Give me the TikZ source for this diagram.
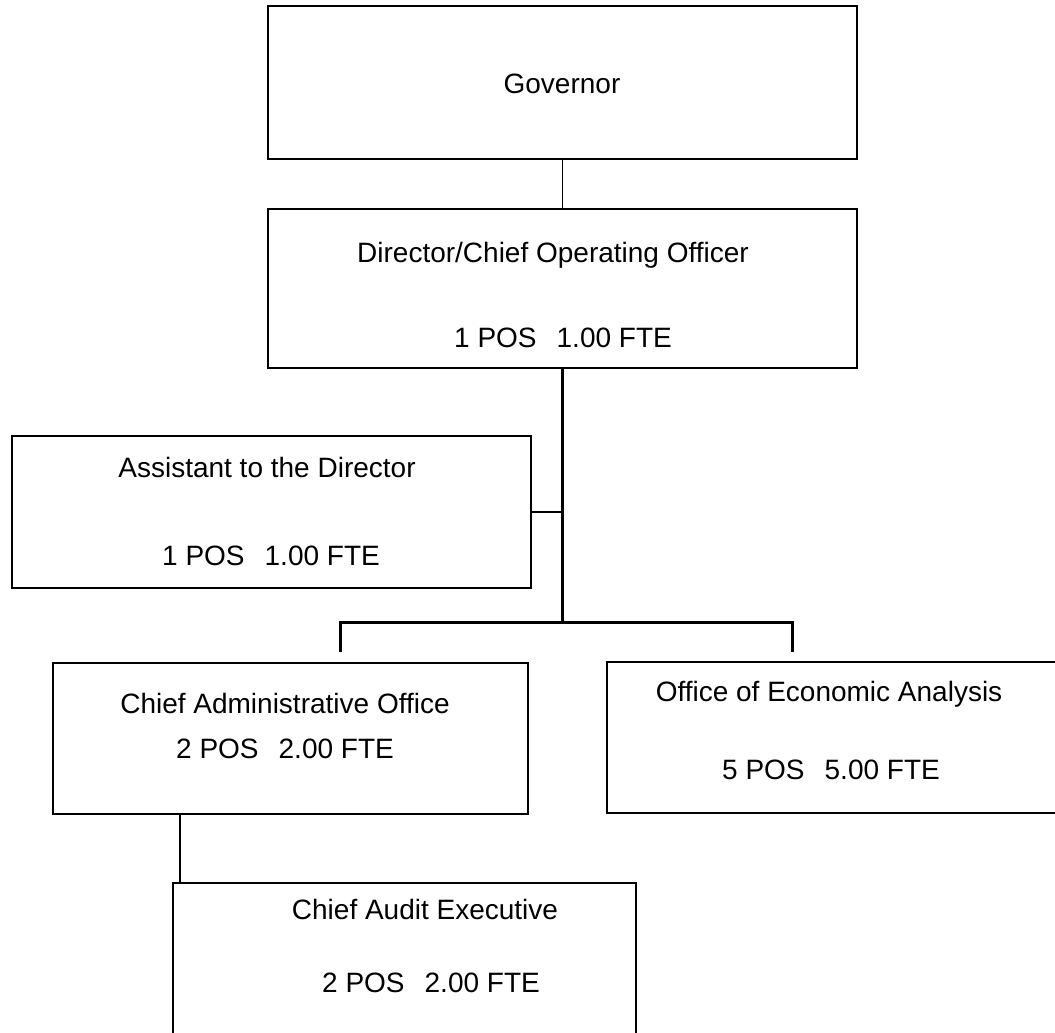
\documentclass[tikz,border=0pt]{standalone}
\usepackage{fontspec}
\setmainfont{Liberation Sans}
\begin{document}
\begin{tikzpicture}[x=1pt,y=-1pt,
  box/.style={draw, line width=2.8pt, rectangle, inner sep=0pt},
  lbl/.style={anchor=base, inner sep=0pt, font=\fontsize{28}{34}\selectfont},
  thinlink/.style={line width=1.3pt},
  midlink/.style={line width=2.2pt},
  thicklink/.style={line width=3pt}]
\useasboundingbox (0,0) rectangle (1055,1033);
\clip (0,0) rectangle (1055,1033);

% position boxes
\node[box, minimum width=589pt, minimum height=153pt] (gov)  at (562.5,82.5)  {};
\node[box, minimum width=589pt, minimum height=159pt] (dir)  at (562.5,288.5) {};
\node[box, minimum width=519pt, minimum height=152pt] (asst) at (271.5,512)   {};
\node[box, minimum width=475pt, minimum height=151pt] (cao)  at (290.5,738.5) {};
\node[box, minimum width=453pt, minimum height=151pt] (oea)  at (833.5,737.5) {};
\node[box, minimum width=463pt, minimum height=207pt] (cae)  at (404.5,986.5) {};

% titles and position counts
\node[lbl] (gov-t)  at (562,93)  {Governor};
\node[lbl] (dir-t)  at (553,262) {Director/Chief Operating Officer};
\node[lbl] (dir-n)  at (563,347) {1 POS\hspace{20pt}1.00 FTE};
\node[lbl] (asst-t) at (267,477) {Assistant to the Director};
\node[lbl] (asst-n) at (271,565) {1 POS\hspace{20pt}1.00 FTE};
\node[lbl] (cao-t)  at (285,713) {Chief Administrative Office};
\node[lbl] (cao-n)  at (285,758) {2 POS\hspace{20pt}2.00 FTE};
\node[lbl] (oea-t)  at (829,701) {Office of Economic Analysis};
\node[lbl] (oea-n)  at (831,779) {5 POS\hspace{20pt}5.00 FTE};
\node[lbl] (cae-t)  at (425,919) {Chief Audit Executive};
\node[lbl] (cae-n)  at (431,992) {2 POS\hspace{20pt}2.00 FTE};

% reporting lines
\coordinate (split) at (562.5,622);
\coordinate (ldrop) at (340,652);
\coordinate (rdrop) at (792,652);
\coordinate (caex)  at (180,0);

\draw[thinlink] (gov.south) -- (dir.north);
\draw[thicklink] (dir.south) -- (split);
\draw[midlink] (asst.east) -- (asst.east -| split);
\draw[thicklink] (ldrop) |- (split) -| (rdrop);
\draw[midlink] (cao.south -| caex) -- (cae.north -| caex);
\end{tikzpicture}
\end{document}
